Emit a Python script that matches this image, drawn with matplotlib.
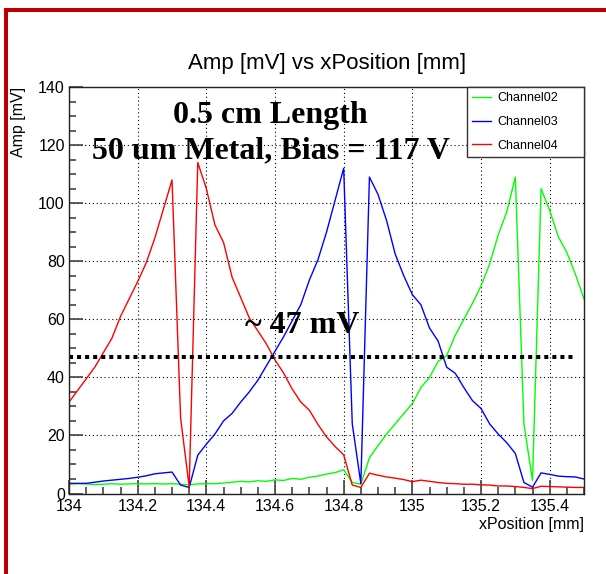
import matplotlib
matplotlib.use("Agg")
import matplotlib.pyplot as plt
from matplotlib.patches import Rectangle
from matplotlib.ticker import MultipleLocator, FixedLocator, FixedFormatter

# scan positions [mm], one reading every 25 um
x_position = [
    134.000, 134.025, 134.050, 134.075, 134.100, 134.125, 134.150, 134.175,
    134.200, 134.225, 134.250, 134.275, 134.300, 134.325, 134.350, 134.375,
    134.400, 134.425, 134.450, 134.475, 134.500, 134.525, 134.550, 134.575,
    134.600, 134.625, 134.650, 134.675, 134.700, 134.725, 134.750, 134.775,
    134.800, 134.825, 134.850, 134.875, 134.900, 134.925, 134.950, 134.975,
    135.000, 135.025, 135.050, 135.075, 135.100, 135.125, 135.150, 135.175,
    135.200, 135.225, 135.250, 135.275, 135.300, 135.325, 135.350, 135.375,
    135.400, 135.425, 135.450, 135.475, 135.500,
]

# amplitudes [mV]
channel02 = [
    3.2, 3.4, 3.3, 3.1, 3.2, 3.4, 3.2, 3.3,
    3.4, 3.3, 3.4, 3.3, 3.4, 3.2, 3.0, 3.3,
    3.4, 3.4, 3.6, 3.9, 4.2, 4.0, 4.4, 4.2,
    4.7, 4.5, 5.2, 4.9, 5.6, 6.0, 6.7, 7.2,
    8.2, 3.8, 3.2, 12.3, 16.5, 20.5, 24.0, 27.5,
    31.0, 36.5, 40.0, 45.5, 47.5, 54.5, 60.0, 65.5,
    71.5, 79.0, 89.0, 97.0, 109.0, 24.0, 4.5, 105.0,
    97.5, 88.5, 83.0, 75.5, 67.0,
]
channel03 = [
    3.5, 3.5, 3.5, 3.9, 4.3, 4.6, 4.9, 5.2,
    5.6, 6.1, 6.8, 7.1, 7.4, 2.9, 2.1, 13.2,
    17.0, 20.5, 25.0, 27.6, 31.5, 35.0, 39.0, 44.0,
    49.0, 54.0, 59.5, 65.0, 73.5, 80.5, 90.0, 101.0,
    112.0, 24.0, 3.4, 109.0, 103.0, 94.0, 82.5, 75.0,
    68.5, 65.0, 57.0, 52.5, 43.5, 41.4, 36.5, 32.0,
    29.3, 24.0, 20.5, 17.5, 13.8, 3.8, 2.2, 7.1,
    6.6, 6.0, 5.8, 5.7, 5.0,
]
channel04 = [
    31.5, 35.5, 39.5, 43.5, 48.5, 53.5, 61.0, 67.0,
    73.0, 79.5, 88.0, 98.0, 108.0, 26.0, 2.3, 114.0,
    105.0, 92.5, 86.5, 74.5, 67.5, 60.5, 56.0, 51.5,
    46.0, 41.5, 36.0, 31.5, 28.7, 23.8, 19.5, 16.2,
    13.3, 2.9, 2.1, 7.0, 6.3, 5.7, 5.3, 4.8,
    4.1, 4.6, 4.2, 3.8, 3.5, 3.4, 3.2, 3.2,
    3.0, 2.9, 2.6, 2.6, 2.4, 2.1, 1.7, 2.5,
    2.4, 2.3, 2.2, 2.1, 2.1,
]

channels = ["Channel02", "Channel03", "Channel04"]
colors = ["#00ff00", "#0000ff", "#ff0000"]

x_ticks = [134.0, 134.2, 134.4, 134.6, 134.8, 135.0, 135.2, 135.4]
x_tick_labels = ["134", "134.2", "134.4", "134.6", "134.8", "135", "135.2", "135.4"]

level_mv = 47

plt.rcParams["font.family"] = ["Liberation Sans", "DejaVu Sans"]
serif = ["Liberation Serif", "DejaVu Serif"]

fig = plt.figure(figsize=(6.06, 5.74), dpi=100)
ax = fig.add_axes([0.1139, 0.1402, 0.8498, 0.7082])

for name, amp, col in zip(channels, [channel02, channel03, channel04], colors):
    ax.plot(x_position, amp, color=col, lw=1.0, label=name)

ax.axhline(level_mv, xmin=0.0, xmax=0.985, color="black", lw=2.9,
           linestyle=(0, (1, 1)), dash_capstyle="butt")

ax.set_xlim(134.0, 135.5)
ax.set_ylim(0, 140)
ax.xaxis.set_major_locator(FixedLocator(x_ticks))
ax.xaxis.set_major_formatter(FixedFormatter(x_tick_labels))
ax.xaxis.set_minor_locator(MultipleLocator(0.05))
ax.yaxis.set_major_locator(MultipleLocator(20))
ax.yaxis.set_minor_locator(MultipleLocator(5))

ax.tick_params(which="both", direction="in", color="#444444", width=1.2,
               top=False, right=False, labelsize=11.5)
ax.tick_params(which="major", length=10)
ax.tick_params(which="minor", length=5)
ax.tick_params(axis="x", pad=4)
ax.tick_params(axis="y", pad=3)
ax.grid(True, which="major", color="black", lw=0.8, linestyle=(0, (1, 2.5)))
for sp in ax.spines.values():
    sp.set_color("#222222")
    sp.set_linewidth(1.0)

ax.text(134.585, 127.6, "0.5 cm Length", family=serif, weight="bold",
        fontsize=23, ha="center", va="baseline")
ax.text(134.588, 115.5, "50 um Metal, Bias = 117 V", family=serif,
        weight="bold", fontsize=23, ha="center", va="baseline")
ax.text(134.679, 55.4, f"~ {level_mv} mV", family=serif, weight="bold",
        fontsize=23, ha="center", va="baseline")

leg = ax.legend(loc="upper left", bbox_to_anchor=(0.773, 0.826, 0.227, 0.174),
                mode="expand", borderaxespad=0, fontsize=9, fancybox=False,
                framealpha=1, edgecolor="#333333", handlelength=1.5,
                handletextpad=0.5, labelspacing=0.95, borderpad=0.4)
leg.get_frame().set_linewidth(1.0)

fig.text(0.540, 0.890, "Amp [mV] vs xPosition [mm]", fontsize=16,
         ha="center", va="center")
fig.text(0.9637, 0.0871, "xPosition [mm]", fontsize=11.5, ha="right",
         va="center")
fig.text(19 / 606, 0.8484, "Amp [mV]", fontsize=11.5, rotation=90,
         ha="center", va="top")

# red slide frame along the top and left edge
fig.add_artist(Rectangle((4 / 606, 0), 4 / 606, 1 - 8 / 574,
                         transform=fig.transFigure, color="#c00000", lw=0))
fig.add_artist(Rectangle((4 / 606, 1 - 12 / 574), 1, 4 / 574,
                         transform=fig.transFigure, color="#c00000", lw=0))

fig.savefig("out.png", dpi=100)
